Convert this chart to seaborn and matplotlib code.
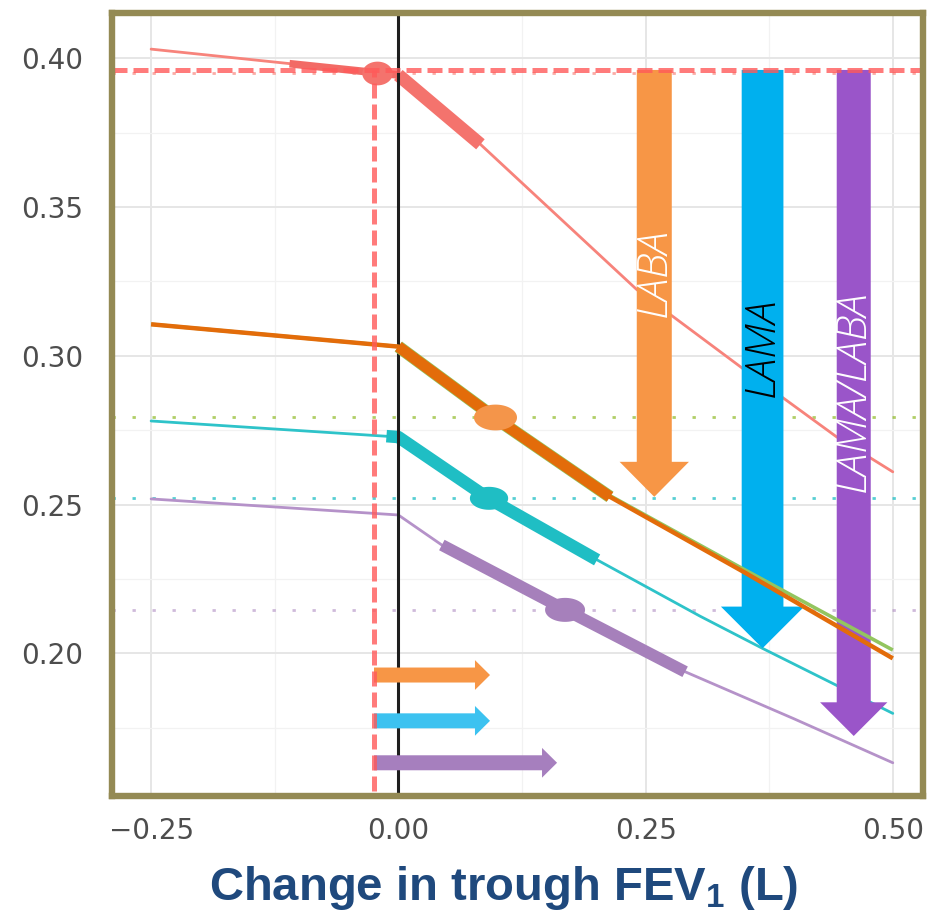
import numpy as np
import pandas as pd
import matplotlib
matplotlib.use("Agg")
import matplotlib.pyplot as plt
from matplotlib.patches import FancyArrow
from matplotlib.path import Path
from matplotlib.ticker import FixedLocator
import seaborn as sns

# ---- modelled exacerbation rate vs. change in trough FEV1 ----
red_x = [-0.25, 0.0, 0.083, 0.241, 0.346, 0.443, 0.50]
red_y = [0.4031, 0.3944, 0.3711, 0.3223, 0.2963, 0.2728, 0.2610]
green_x = [-0.25, 0.0, 0.214, 0.349, 0.50]
green_y = [0.3106, 0.3031, 0.2530, 0.2283, 0.2011]
teal_x = [-0.25, 0.0, 0.091, 0.201, 0.305, 0.368, 0.50]
teal_y = [0.2781, 0.2727, 0.2521, 0.2314, 0.2125, 0.2017, 0.1798]
purple_x = [-0.25, 0.0, 0.044, 0.169, 0.290, 0.400, 0.50]
purple_y = [0.2519, 0.2465, 0.2364, 0.2146, 0.1938, 0.1780, 0.1632]
orange_x = [-0.25, 0.0, 0.214, 0.349, 0.50]
orange_y = [0.3106, 0.3031, 0.2526, 0.2274, 0.1983]

# interval segments along the curves
red_outer_x = [-0.110, 0.0]
red_outer_y = [0.3982, 0.3944]
red_inner_x = [0.0, 0.083]
red_inner_y = [0.3944, 0.3711]
orange_int_x = [0.0, 0.097, 0.214]
orange_int_y = [0.3031, 0.2793, 0.2526]
teal_int_x = [-0.012, 0.0, 0.091, 0.201]
teal_int_y = [0.2730, 0.2727, 0.2521, 0.2314]
purple_int_x = [0.044, 0.169, 0.290]
purple_int_y = [0.2364, 0.2146, 0.1938]

# point estimates (and their reference levels)
point_x = [-0.0215, 0.0973, 0.0917, 0.1686]
point_y = [0.3951, 0.2793, 0.2521, 0.2146]

# threshold
ref_x = -0.0246
ref_y = 0.3961

# treatments
treatments = ["LABA", "LAMA", "LAMA/LABA"]
drop_x = [0.2588, 0.3683, 0.4605]
drop_end_y = [0.2526, 0.2017, 0.1722]
gain_end_x = [0.0927, 0.0927, 0.1605]
gain_y = [0.1927, 0.1773, 0.1632]
label_y = [0.328, 0.3028, 0.2882]

x_ticks = [-0.25, 0.0, 0.25, 0.50]
x_labels = ["\u22120.25", "0.00", "0.25", "0.50"]
y_ticks = [0.20, 0.25, 0.30, 0.35, 0.40]
y_labels = ["0.20", "0.25", "0.30", "0.35", "0.40"]

sns.set_theme(style="white")
plt.rcParams["font.family"] = ["DejaVu Sans"]
plt.rcParams["mathtext.fontset"] = "custom"
plt.rcParams["mathtext.rm"] = "Liberation Sans"
plt.rcParams["mathtext.bf"] = "Liberation Sans:bold"

fig = plt.figure(figsize=(9.35, 9.15), dpi=100)
ax = fig.add_axes([0.1193, 0.1306, 0.8674, 0.8557])
ax.set_xlim(-0.290, 0.5301)
ax.set_ylim(0.1522, 0.4154)

# grid
ax.set_axisbelow(True)
ax.xaxis.set_minor_locator(FixedLocator([-0.125, 0.125, 0.375]))
ax.yaxis.set_minor_locator(FixedLocator([0.175, 0.225, 0.275, 0.325, 0.375]))
ax.grid(which="major", color="#E6E6E6", lw=1.4)
ax.grid(which="minor", color="#F2F2F2", lw=0.9)

C_RED, C_GREEN, C_TEAL, C_PURPLE = "#F8766D", "#7CAE00", "#1FBEC4", "#A882BD"

# dotted levels at the point estimates
for yv, c, a in zip(point_y, [C_RED, C_GREEN, C_TEAL, C_PURPLE], [0.6, 0.6, 0.75, 0.55]):
    ax.axhline(yv, color=c, alpha=a, lw=2.0, ls=(0, (1.2, 6.0)), zorder=1.5)

curves = pd.concat([
    pd.DataFrame({"fev1": red_x, "rate": red_y, "group": "red"}),
    pd.DataFrame({"fev1": teal_x, "rate": teal_y, "group": "teal"}),
    pd.DataFrame({"fev1": purple_x, "rate": purple_y, "group": "purple"}),
])
sns.lineplot(data=curves, x="fev1", y="rate", hue="group",
             palette={"red": "#F7837B", "teal": "#2EC3C9", "purple": "#B592C9"},
             estimator=None, sort=False, lw=2.0, legend=False, ax=ax, zorder=2)

# interval segments
seg = dict(estimator=None, sort=False, legend=False, ax=ax, solid_capstyle="butt")
sns.lineplot(x=red_outer_x, y=red_outer_y, color="#F26A65", lw=5.5, zorder=2.5, **seg)
sns.lineplot(x=red_inner_x, y=red_inner_y, color="#F4736D", lw=9.5, zorder=2.5, **seg)
sns.lineplot(x=teal_int_x, y=teal_int_y, color="#1FBEC4", lw=9.0, zorder=2.5, **seg)
sns.lineplot(x=purple_int_x, y=purple_int_y, color="#A680BB", lw=8.5, zorder=2.5, **seg)

# ellipse-shaped point markers
t = np.linspace(0, 2 * np.pi, 64)
ell = Path(np.column_stack([np.cos(t), 0.6 * np.sin(t)]), closed=True)
ell_red = Path(np.column_stack([np.cos(t), 0.78 * np.sin(t)]), closed=True)
ax.scatter(point_x[:1], point_y[:1], s=480, marker=ell_red, color="#F4736D", lw=0, zorder=3)
ax.scatter(point_x[2:], point_y[2:], s=[760, 830], marker=ell,
           color=["#1FBEC4", "#A680BB"], lw=0, zorder=3)

# zero line
ax.axvline(0.0, color="#1E1E1E", lw=2.2, zorder=3.2)

# vertical treatment arrows
drop_cols = ["#F79646", "#00B0EE", "#9A55C9"]
shaft_w = [0.0354, 0.0422, 0.0344]
head_w = [0.0701, 0.0842, 0.0681]
head_l = [0.01177, 0.0140, 0.01133]
for xv, ye, c, sw, hw, hl in zip(drop_x, drop_end_y, drop_cols, shaft_w, head_w, head_l):
    ax.add_patch(FancyArrow(xv, ref_y, 0, ye - ref_y, width=sw, head_width=hw,
                            head_length=hl, length_includes_head=True,
                            color=c, lw=0, zorder=4))

# horizontal benefit arrows
gain_cols = ["#F79646", "#3CC2F0", "#A67FBE"]
for xe, yv, c in zip(gain_end_x, gain_y, gain_cols):
    ax.add_patch(FancyArrow(ref_x, yv, xe - ref_x, 0, width=0.00504, head_width=0.0100,
                            head_length=0.0152, length_includes_head=True,
                            color=c, lw=0, zorder=4))

# green/orange series on top
sns.lineplot(x=green_x, y=green_y, color="#93C55F", lw=2.6, zorder=4.5, **seg)
sns.lineplot(x=orange_int_x, y=orange_int_y, color="#93C55F", lw=9.0, zorder=4.5, **seg)
sns.lineplot(x=orange_x, y=orange_y, color="#E36C0A", lw=3.2, zorder=4.6, **seg)
sns.lineplot(x=orange_int_x, y=orange_int_y, color="#E36C0A", lw=8.0, zorder=4.6, **seg)
ax.scatter(point_x[1:2], point_y[1:2], s=960, marker=ell, color="#F4954A", lw=0, zorder=4.7)

# threshold lines
ax.axhline(ref_y, color="#FF5A5A", alpha=0.8, lw=3.6, ls=(0, (3.0, 1.2)), zorder=5)
ax.vlines(ref_x, ax.get_ylim()[0] + 0.0015, ref_y, color="#FF5A5A", alpha=0.8,
          lw=3.6, linestyles=[(0, (3.0, 1.2))], zorder=5)

# treatment labels
for xv, yv, txt, c in zip(drop_x, label_y, treatments, ["white", "black", "white"]):
    ax.text(xv, yv, txt, rotation=90, ha="center", va="center", rotation_mode="anchor",
            color=c, fontsize=31, fontstyle="italic", fontweight="light",
            family=["Open Sans", "DejaVu Sans"], zorder=6)

# axes styling
ax.set_xticks(x_ticks)
ax.set_xticklabels(x_labels)
ax.set_yticks(y_ticks)
ax.set_yticklabels(y_labels)
ax.set_xlabel("")
ax.set_ylabel("")
for sp in ax.spines.values():
    sp.set_color("#948A54")
    sp.set_linewidth(4.6)
    sp.set_zorder(7)
ax.tick_params(which="major", length=10.4, width=1.5, color="#333333",
               labelsize=20, labelcolor="#4D4D4D", direction="out")
ax.tick_params(axis="x", which="major", pad=5.0)
ax.tick_params(axis="y", which="major", pad=10)
ax.tick_params(which="minor", length=0)

fig.text(504 / 935, 1 - 900 / 915, r"Change in trough FEV$_\mathbf{1}$ (L)",
         ha="center", va="baseline", fontsize=34, fontweight="bold",
         color="#1F497D", family=["Liberation Sans", "DejaVu Sans"])

fig.savefig("out.png", dpi=100, facecolor="white")
